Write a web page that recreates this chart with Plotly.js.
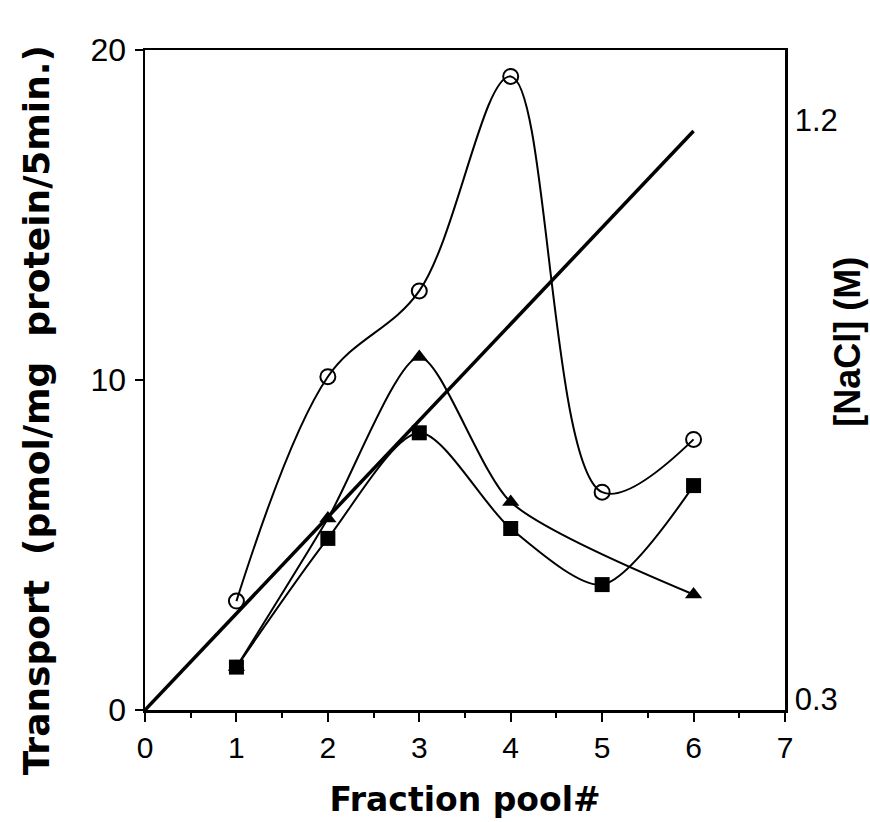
<!DOCTYPE html>
<html>
<head>
<meta charset="utf-8">
<script src="https://cdn.plot.ly/plotly-3.0.1.min.js"></script>
<style>html,body{margin:0;padding:0;background:#fff;}#chart{width:870px;height:822px;}</style>
</head>
<body>
<div id="chart"></div>
<script>
// Fraction pools
var poolsCircle = [1, 2, 3, 4, 5, 6];
var transportCircle = [3.3, 10.1, 12.7, 19.2, 6.6, 8.2];

var poolsTriangle = [1, 2, 3, 4, 6];
var transportTriangle = [1.3, 5.8, 10.7, 6.3, 3.5];

var poolsSquare = [1, 2, 3, 4, 5, 6];
var transportSquare = [1.3, 5.2, 8.4, 5.5, 3.8, 6.8];

// NaCl gradient (right axis)
var poolsNaCl = [0, 6];
var naclM = [0.3, 1.2];

var xTicks = [0, 1, 2, 3, 4, 5, 6, 7];
var yTicks = [0, 10, 20];
var y2Ticks = [0.3, 1.2];

var FONT = 'Liberation Sans, Arial, Helvetica, sans-serif';
var TFONT = 'DejaVu Sans, Liberation Sans, Arial, sans-serif';

var traces = [
  {x: poolsCircle, y: transportCircle, mode: 'lines+markers', type: 'scatter',
   line: {color: '#000', width: 2, shape: 'spline', smoothing: 1},
   marker: {symbol: 'circle-open', size: 15, color: '#000', line: {width: 2, color: '#000'}},
   showlegend: false},
  {x: poolsTriangle, y: transportTriangle, mode: 'lines+markers', type: 'scatter',
   line: {color: '#000', width: 2, shape: 'spline', smoothing: 0.7},
   marker: {symbol: 'triangle-up', size: 15, color: '#000'},
   showlegend: false},
  {x: poolsSquare, y: transportSquare, mode: 'lines+markers', type: 'scatter',
   line: {color: '#000', width: 2, shape: 'spline', smoothing: 0.8},
   marker: {symbol: 'square', size: 15, color: '#000'},
   showlegend: false},
  {x: poolsNaCl, y: naclM, yaxis: 'y2', mode: 'lines', type: 'scatter',
   line: {color: '#000', width: 3.5},
   showlegend: false}
];

var layout = {
  width: 870, height: 822,
  margin: {l: 145, r: 85, t: 50, b: 112},
  paper_bgcolor: '#fff', plot_bgcolor: '#fff',
  font: {family: FONT, color: '#000', size: 30},
  xaxis: {
    range: [0, 7], tickvals: xTicks, ticktext: xTicks.map(String),
    showline: true, linecolor: '#000', linewidth: 2.5, mirror: true,
    ticks: 'outside', ticklen: 9, tickwidth: 2, tickcolor: '#000',
    minor: {dtick: 0.5, ticks: 'outside', ticklen: 5, tickwidth: 2, tickcolor: '#000'},
    showgrid: false, zeroline: false,
    tickfont: {family: FONT, size: 30, color: '#000'},
    title: {text: '<b>Fraction pool#</b>', font: {family: TFONT, size: 33, color: '#000'}, standoff: 26}
  },
  yaxis: {
    range: [0, 20], tickvals: yTicks, ticktext: yTicks.map(String),
    showline: true, linecolor: '#000', linewidth: 2.5,
    ticks: 'outside', ticklen: 8, tickwidth: 2, tickcolor: '#000',
    showgrid: false, zeroline: false,
    tickfont: {family: FONT, size: 32, color: '#000'},
    ticklabelstandoff: 2
  },
  yaxis2: {
    overlaying: 'y', side: 'right',
    range: [0.3, 1.326], tickvals: y2Ticks, ticktext: ['0.3', '1.2'],
    showline: true, linecolor: '#000', linewidth: 2.5,
    ticks: '', showgrid: false, zeroline: false,
    tickfont: {family: FONT, size: 31, color: '#000'},
    ticklabelshift: -11, ticklabelstandoff: 1
  },
  annotations: [
    {text: '<b>Transport  (pmol/mg  protein/5min.)</b>', xref: 'paper', yref: 'paper',
     x: -0.170, y: 0.4545, xanchor: 'center', yanchor: 'middle', textangle: -90, showarrow: false,
     font: {family: TFONT, size: 36, color: '#000'}},
    {text: '<b>[NaCl] (M)</b>', xref: 'paper', yref: 'paper',
     x: 1.098, y: 0.5576, xanchor: 'center', yanchor: 'middle', textangle: -90, showarrow: false,
     font: {family: FONT, size: 36, color: '#000'}}
  ]
};

Plotly.newPlot('chart', traces, layout, {displayModeBar: false, staticPlot: true});
</script>
</body>
</html>
